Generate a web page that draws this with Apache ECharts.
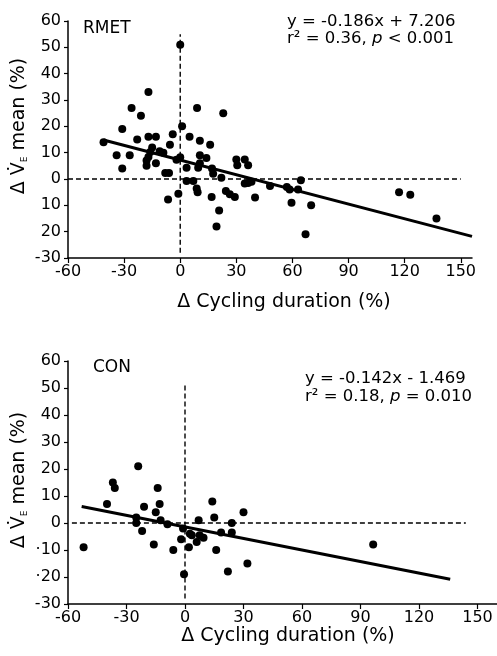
<!DOCTYPE html>
<html>
<head>
<meta charset="utf-8">
<script src="https://cdn.jsdelivr.net/npm/echarts@6/dist/echarts.min.js"></script>
<style>
  html, body { margin: 0; padding: 0; background: #fff; }
  #chart { width: 497px; height: 656px; }
</style>
</head>
<body>
<div id="chart"></div>
<script>
// tick values and labels
const xTicks = [-60, -30, 0, 30, 60, 90, 120, 150];
const yTicks = [-30, -20, -10, 0, 10, 20, 30, 40, 50, 60];
const rmetYLabels = ['-30', '20', '10', '0', '10', '20', '30', '40', '50', '60'];
const conYLabels = ['-30', '·20', '·10', '0', '10', '20', '30', '40', '50', '60'];

// RMET: [delta cycling duration %, delta VE mean %]
const rmetPoints = [
    [0, 51], [-17, 33], [-26, 27], [-21, 24], [9, 27], [23, 25], [1, 20], [-31, 19],
    [-41, 14], [-23, 15], [-17, 16], [-13, 16], [-4, 17], [5, 16], [10.5, 14.5], [16, 13],
    [-5.5, 13], [-15, 12], [-11, 10.5], [-34, 9], [-27, 9], [-16, 10.3], [-17, 8.4], [-9, 10],
    [-2, 7.3], [0, 8.3], [10.5, 9], [14, 8], [10.5, 6], [30, 7.4], [30.5, 5.2], [34.5, 7.4],
    [36.3, 5.2], [-18, 7], [-13, 6], [-18, 5], [-31, 4], [3.4, 4.3], [9.6, 4.3], [17, 4],
    [17.6, 2], [-8, 2.3], [-6, 2.3], [22, 0.5], [3.4, -0.8], [7, -0.8], [8.8, -3.6], [9.3, -5],
    [16.8, -6.8], [24.4, -4.6], [26.5, -5.8], [29.2, -6.8], [-1, -5.6], [-6.5, -7.8], [20.8, -12],
    [19.4, -18], [34.5, -1.7], [36.3, -1.5], [38.1, -1], [40, -7], [48, -2.7], [57, -3],
    [58.5, -4], [63, -4], [64.5, -0.5], [59.5, -9], [70, -10], [67, -21], [117, -5],
    [123, -6], [137, -15]
];
const rmetFit = [[-41, 14.8], [156, -21.8]];
const rmetZeroH = [[-60, 0], [150, 0]];
const rmetZeroV = [[0, -28], [0, 55]];

// CON
const conPoints = [
    [-52, -9], [-40, 7], [-37, 15], [-36, 13], [-24, 21], [-25, 2], [-25, 0], [-22, -3],
    [-21, 6], [-16, -8], [-15, 4], [-14, 13], [-13, 7], [-12.5, 1], [-9, -0.5], [-6, -10],
    [-2, -6], [-1, -2], [-0.5, -19], [2, -9], [2.5, -4], [3.5, -4.5], [6, -7], [7, 1],
    [7.5, -4.5], [9.5, -5.5], [14, 8], [15, 2], [16, -10], [18.5, -3.5], [22, -18], [24, 0],
    [24, -3.5], [30, 4], [32, -15], [96.5, -8]
];
const conFit = [[-53, 6.1], [136, -20.8]];
const conZeroH = [[-58, 0], [144, 0]];
const conZeroV = [[0, -28], [0, 52]];

const FONT = 'DejaVu Sans';
const INK = '#000';

function makeXAxis(gridIndex, max) {
    return {
        type: 'value',
        gridIndex: gridIndex,
        min: -60,
        max: max,
        interval: 30,
        axisLine: { onZero: false, lineStyle: { color: INK, width: 1.5 } },
        axisTick: { customValues: xTicks, length: 5, lineStyle: { color: INK, width: 1.2 } },
        axisLabel: {
            customValues: xTicks,
            margin: 6,
            color: INK,
            fontFamily: FONT,
            fontSize: 16
        },
        splitLine: { show: false }
    };
}

function makeYAxis(gridIndex, labels) {
    return {
        type: 'value',
        gridIndex: gridIndex,
        min: -30,
        max: 60,
        interval: 10,
        axisLine: { onZero: false, lineStyle: { color: INK, width: 1.5 } },
        axisTick: { length: 4, lineStyle: { color: INK, width: 1.2 } },
        axisLabel: {
            margin: 7,
            color: INK,
            fontFamily: FONT,
            fontSize: 16,
            formatter: function (v) {
                const i = yTicks.indexOf(v);
                return i >= 0 ? labels[i] : '';
            }
        },
        splitLine: { show: false }
    };
}

function dashed(idx, data) {
    return {
        type: 'line',
        xAxisIndex: idx,
        yAxisIndex: idx,
        data: data,
        showSymbol: false,
        silent: true,
        lineStyle: { color: INK, width: 1.4, type: [5, 3] },
        z: 2
    };
}

function fitLine(idx, data) {
    return {
        type: 'line',
        xAxisIndex: idx,
        yAxisIndex: idx,
        data: data,
        showSymbol: false,
        silent: true,
        lineStyle: { color: INK, width: 3 },
        z: 3
    };
}

function dots(idx, data) {
    return {
        type: 'scatter',
        xAxisIndex: idx,
        yAxisIndex: idx,
        data: data,
        symbol: 'circle',
        symbolSize: 8,
        itemStyle: { color: INK, opacity: 1 },
        z: 4
    };
}

function label(x, y, text, size, extra) {
    return {
        type: 'text',
        x: x,
        y: y,
        style: Object.assign({
            text: text,
            fill: INK,
            font: size + 'px "' + FONT + '"',
            verticalAlign: 'middle'
        }, extra || {})
    };
}

function yTitle(y) {
    return {
        type: 'text',
        x: 19.5,
        y: y,
        rotation: Math.PI / 2,
        style: {
            text: '{a|Δ V\u0307}{b|E}{a| mean (%)}',
            align: 'center',
            verticalAlign: 'middle',
            fill: INK,
            rich: {
                a: { fontFamily: FONT, fontSize: 19, lineHeight: 24, fill: INK },
                b: { fontFamily: FONT, fontSize: 9, lineHeight: 24, verticalAlign: 'bottom', fill: INK, padding: [0, 0, 2, 0] }
            }
        }
    };
}

const chart = echarts.init(document.getElementById('chart'));
chart.setOption({
    animation: false,
    backgroundColor: '#fff',
    grid: [
        { left: 68, top: 21, width: 404, height: 237 },
        { left: 68, top: 361, width: 429, height: 243 }
    ],
    xAxis: [makeXAxis(0, 156), makeXAxis(1, 160)],
    yAxis: [makeYAxis(0, rmetYLabels), makeYAxis(1, conYLabels)],
    series: [
        dashed(0, rmetZeroH), dashed(0, rmetZeroV), fitLine(0, rmetFit), dots(0, rmetPoints),
        dashed(1, conZeroH), dashed(1, conZeroV), fitLine(1, conFit), dots(1, conPoints)
    ],
    graphic: [
        label(83, 29, 'RMET', 17),
        label(93, 368, 'CON', 17),
        label(287, 22, 'y = -0.186x + 7.206', 16.5),
        {
            type: 'text', x: 287, y: 38.5,
            style: {
                text: '{n|r² = 0.36, }{i|p}{n| < 0.001}',
                verticalAlign: 'middle',
                rich: {
                    n: { fontFamily: FONT, fontSize: 16.5, fill: INK },
                    i: { fontFamily: FONT, fontSize: 16.5, fontStyle: 'italic', fill: INK }
                }
            }
        },
        label(305, 378.5, 'y = -0.142x - 1.469', 16.5),
        {
            type: 'text', x: 305, y: 397,
            style: {
                text: '{n|r² = 0.18, }{i|p}{n| = 0.010}',
                verticalAlign: 'middle',
                rich: {
                    n: { fontFamily: FONT, fontSize: 16.5, fill: INK },
                    i: { fontFamily: FONT, fontSize: 16.5, fontStyle: 'italic', fill: INK }
                }
            }
        },
        label(284, 302, 'Δ Cycling duration (%)', 19, { align: 'center' }),
        label(288, 636, 'Δ Cycling duration (%)', 19, { align: 'center' }),
        yTitle(126),
        yTitle(480)
    ]
});

window.addEventListener('resize', () => chart.resize());
</script>
</body>
</html>
